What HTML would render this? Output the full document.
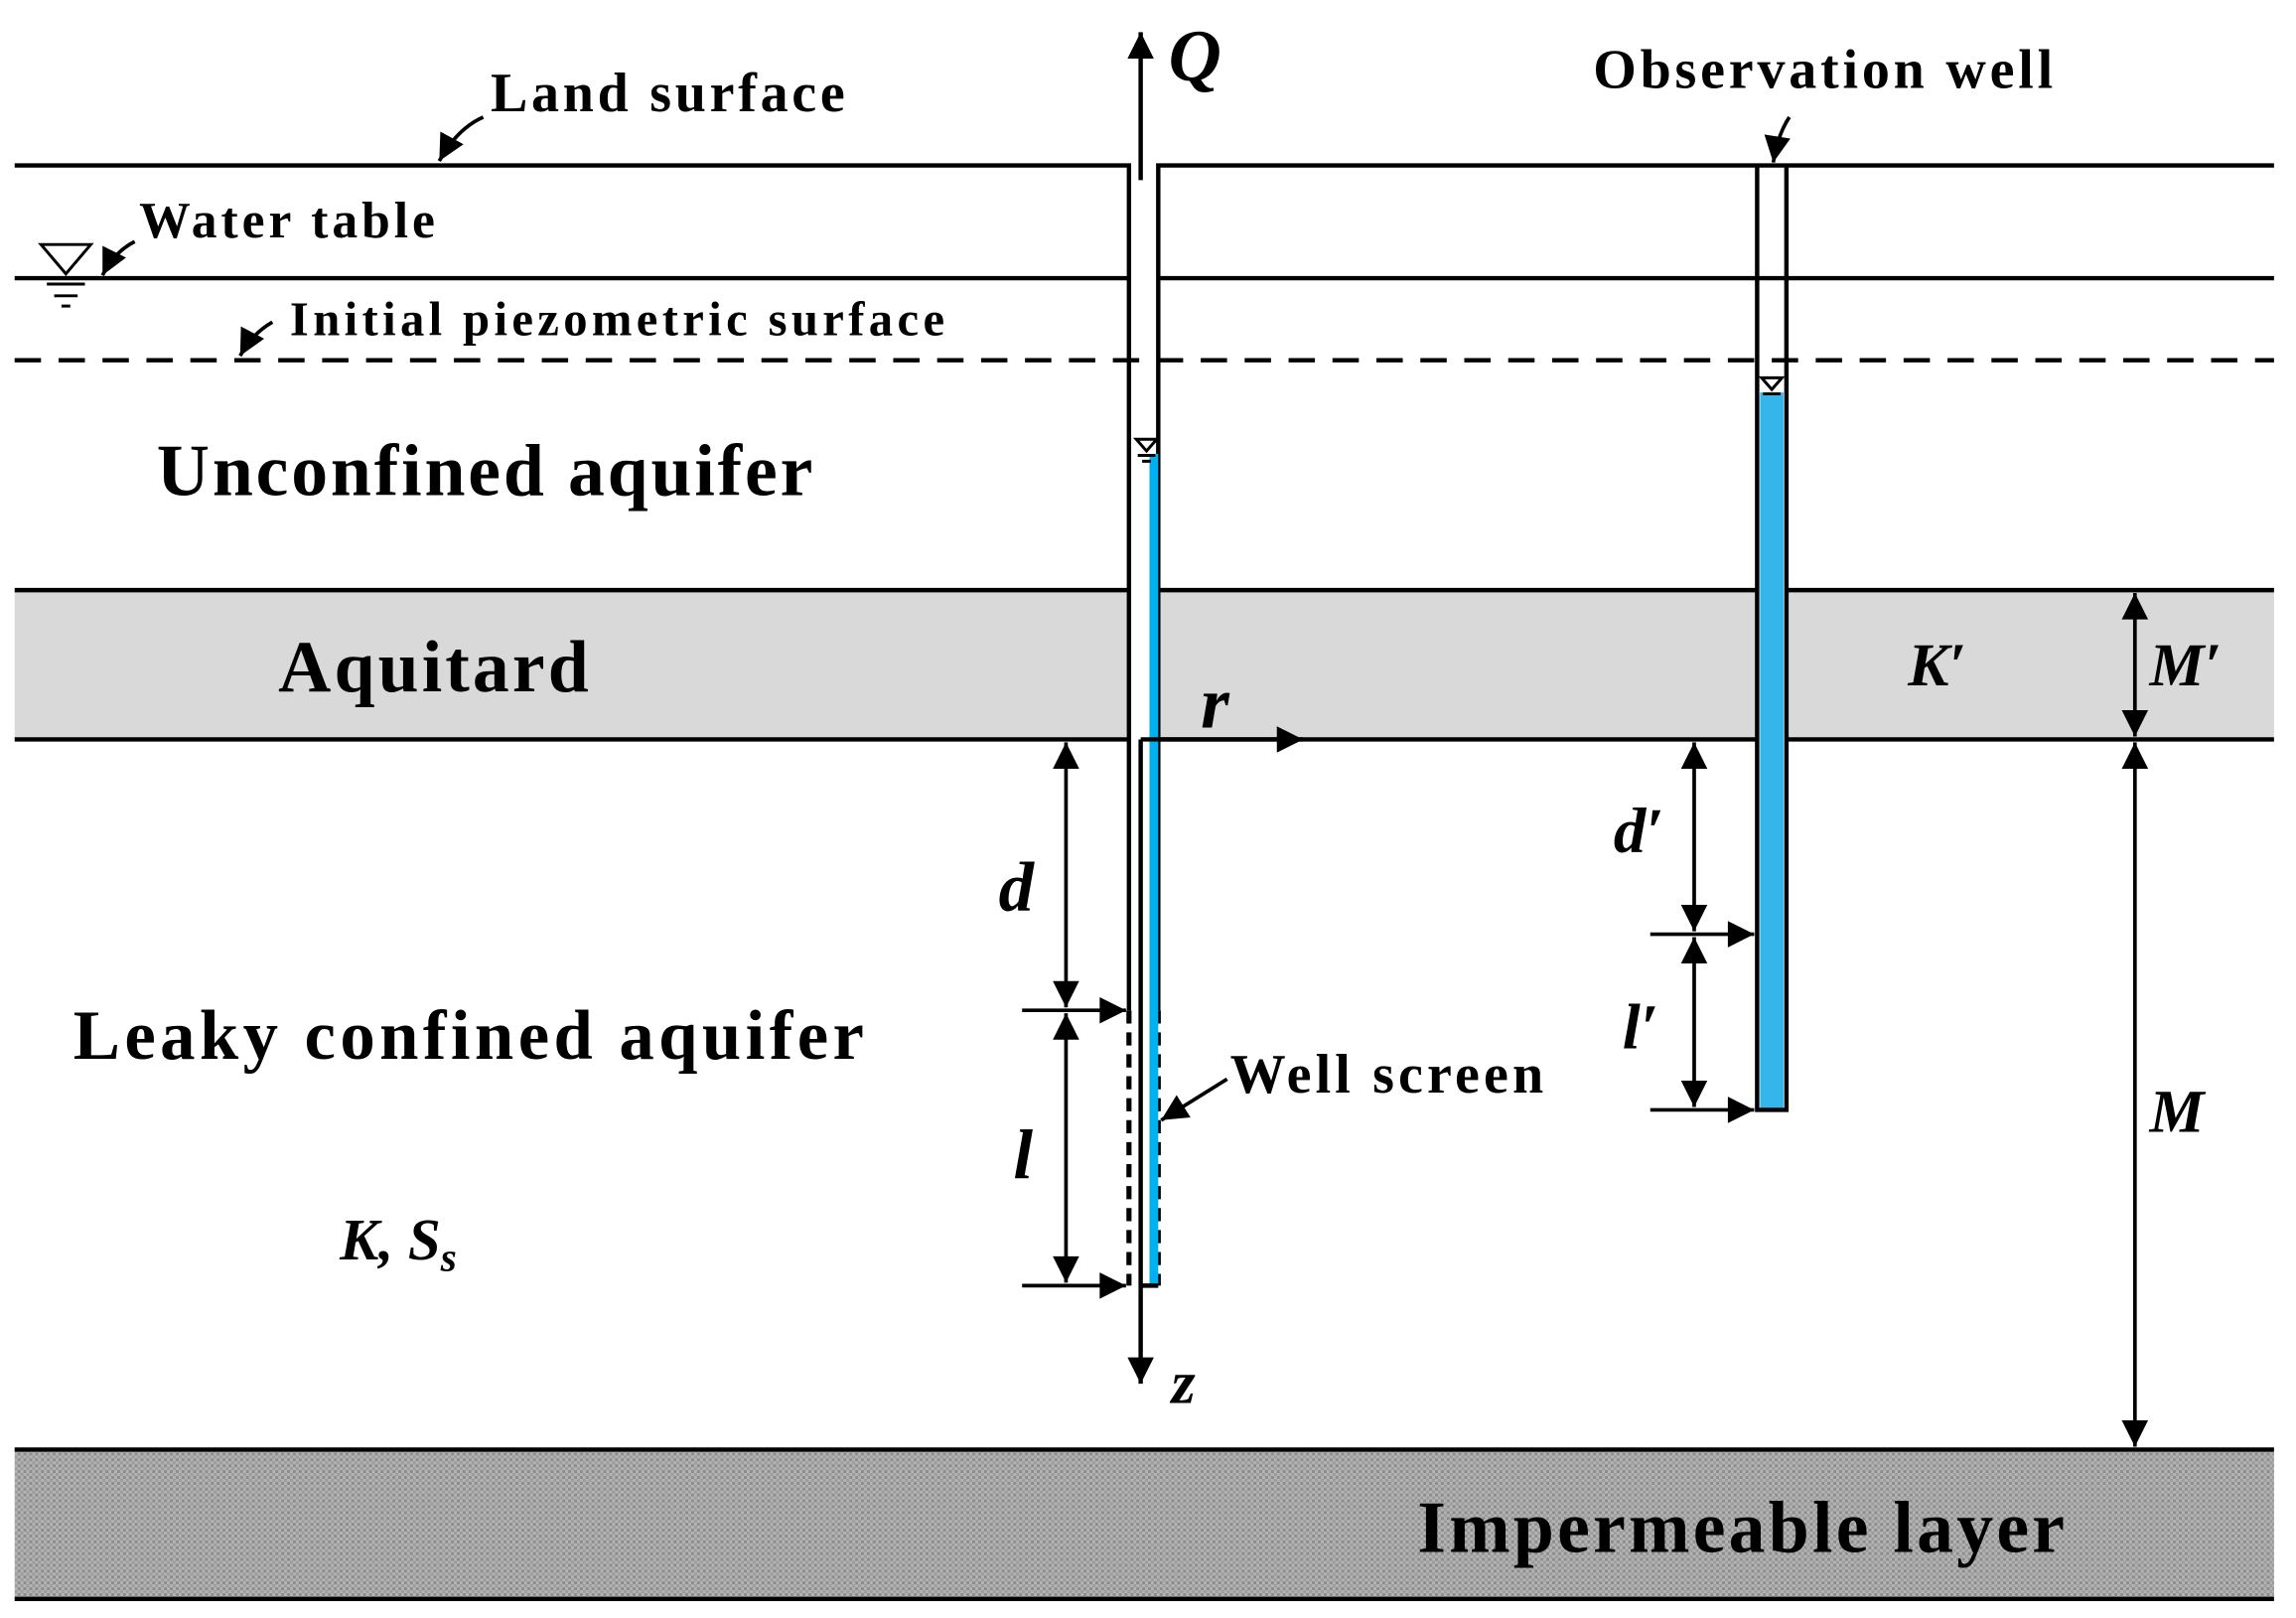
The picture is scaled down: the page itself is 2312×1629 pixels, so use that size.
<!DOCTYPE html>
<html><head><meta charset="utf-8"><style>
html,body{margin:0;padding:0;background:#fff;}
svg{display:block;}
text{font-family:"Liberation Serif",serif;font-weight:bold;fill:#000;}
.i{font-style:italic;}
</style></head><body>
<svg width="2312" height="1629" viewBox="0 0 1568 1105" preserveAspectRatio="none" xmlns="http://www.w3.org/2000/svg">
<defs>
<pattern id="h" width="4" height="4" patternUnits="userSpaceOnUse">
<rect width="4" height="4" fill="#b4b4b4"/>
<rect width="2" height="2" fill="#8c8c8c"/>
<rect x="2" y="2" width="2" height="2" fill="#9c9c9c"/>
</pattern>
<marker id="b" viewBox="0 0 10 10" refX="10" refY="5" markerWidth="24" markerHeight="18" orient="auto-start-reverse" markerUnits="userSpaceOnUse">
<path d="M0,0 L10,5 L0,10 z" fill="#000"/>
</marker>
</defs>
<rect x="10" y="403" width="1543" height="102" fill="#d9d9d9"/>
<rect x="10" y="990" width="1543" height="102" fill="url(#h)"/>
<rect x="771" y="403" width="20" height="102" fill="#fff"/>
<rect x="1200" y="403" width="20" height="102" fill="#fff"/>
<g stroke="#000" stroke-width="3" fill="none">
<path d="M10,113 H771 V690"/>
<path d="M1553,113 H791 V690"/>
<path d="M771,690 V878 M791,690 V878" stroke-dasharray="9,6" stroke-width="3.5"/>
<path d="M10,190 H771 M791,190 H1553"/>
<path d="M10,246 H1553" stroke-dasharray="18,12"/>
<path d="M10,403 H771 M791,403 H1200 M1220,403 H1553"/>
<path d="M10,505 H771 M1220,505 H1553 M1200,505 H791"/>
<path d="M10,990 H1553 M10,1092 H1553"/>
</g>
<rect x="785" y="310" width="6" height="568" fill="#00b0f0"/>
<rect x="1202" y="268" width="16" height="490" fill="#35b6ea"/>
<g stroke="#000" stroke-width="3" fill="none">
<path d="M779,505 V945" marker-end="url(#b)"/>
<path d="M779,505 H791 M779,878 H791"/>
<path d="M779,123 V22" marker-end="url(#b)"/>
<path d="M791,505 H890" marker-end="url(#b)"/>
<path d="M1200,113 V758 H1220 V113"/>
</g>
<g stroke="#000" stroke-width="2.5" fill="none">
<path d="M728,507 V688" marker-start="url(#b)" marker-end="url(#b)"/>
<path d="M728,692 V876" marker-start="url(#b)" marker-end="url(#b)"/>
<path d="M698,690 H769" marker-end="url(#b)"/>
<path d="M698,878 H769" marker-end="url(#b)"/>
<path d="M1157,507 V636" marker-start="url(#b)" marker-end="url(#b)"/>
<path d="M1157,640 V756" marker-start="url(#b)" marker-end="url(#b)"/>
<path d="M1127,638 H1198" marker-end="url(#b)"/>
<path d="M1127,758 H1198" marker-end="url(#b)"/>
<path d="M1458,405 V503" marker-start="url(#b)" marker-end="url(#b)"/>
<path d="M1458,507 V988" marker-start="url(#b)" marker-end="url(#b)"/>
<path d="M838,737 L793,765" marker-end="url(#b)"/>
<path d="M330,80 Q312,88 300,110" marker-end="url(#b)"/>
<path d="M92,165 Q78,172 70,188" marker-end="url(#b)"/>
<path d="M186,220 Q172,228 164,243" marker-end="url(#b)"/>
<path d="M1222,80 Q1214,92 1211,111" marker-end="url(#b)"/>
</g>
<g stroke="#000" stroke-width="2" fill="none">
<path d="M28,167 H62 L45,187 Z"/>
<path d="M32,194 H58 M37,202 H53 M42,209 H48"/>
<path d="M776,300 H790 L783,308 Z M777,311 H789 M780,315 H786"/>
<path d="M1203,258 H1217 L1210,266 Z M1204,269 H1216"/>
</g>
<text x="335" y="76" font-size="38" textLength="242" lengthAdjust="spacing">Land surface</text>
<text x="95" y="162" font-size="35" textLength="202" lengthAdjust="spacing">Water table</text>
<text x="198" y="229" font-size="33" textLength="447" lengthAdjust="spacing">Initial piezometric surface</text>
<text x="107" y="338" font-size="50" textLength="448" lengthAdjust="spacing">Unconfined aquifer</text>
<text x="190" y="472" font-size="50" textLength="212" lengthAdjust="spacing">Aquitard</text>
<text x="50" y="723" font-size="48" textLength="540" lengthAdjust="spacing">Leaky confined aquifer</text>
<text x="232" y="860" font-size="40" class="i">K, S<tspan font-size="28" dy="8">s</tspan></text>
<text x="840" y="746" font-size="38" textLength="214" lengthAdjust="spacing">Well screen</text>
<text x="1088" y="60" font-size="38" textLength="314" lengthAdjust="spacing">Observation well</text>
<text x="1303" y="468" font-size="42" class="i">K′</text>
<text x="1468" y="468" font-size="42" class="i">M′</text>
<text x="1468" y="773" font-size="42" class="i">M</text>
<text x="682" y="622" font-size="48" class="i">d</text>
<text x="692" y="805" font-size="48" class="i">l</text>
<text x="1102" y="582" font-size="44" class="i">d′</text>
<text x="1108" y="716" font-size="44" class="i">l′</text>
<text x="820" y="497" font-size="50" class="i">r</text>
<text x="800" y="958" font-size="42" class="i">z</text>
<text x="798" y="55" font-size="50" class="i">Q</text>
<text x="968" y="1060" font-size="50" textLength="442" lengthAdjust="spacing">Impermeable layer</text>
</svg>
</body></html>
